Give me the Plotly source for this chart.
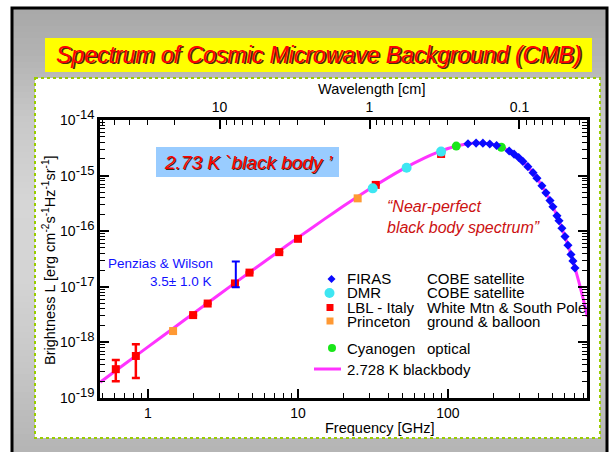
import numpy as np
import plotly.graph_objects as go

# ---------------- data ----------------
# 2.728 K blackbody curve, frequency [GHz] and brightness [erg cm^-2 s^-1 Hz^-1 sr^-1]
bb_freq_ghz = [0.48, 0.5, 0.7, 1, 1.5, 2, 3, 5, 7, 10, 15, 20, 30, 50, 70, 85, 100,
               115, 130, 145, 160, 180, 200, 225, 250, 275, 300, 350, 400, 450, 500,
               550, 600, 650, 700, 750, 800, 850]
bb_brightness = [1.92e-19, 2.09e-19, 4.08e-19, 8.31e-19, 1.86e-18, 3.29e-18, 7.35e-18,
                 2.01e-17, 3.86e-17, 7.67e-17, 1.65e-16, 2.80e-16, 5.73e-16, 1.31e-15,
                 2.09e-15, 2.62e-15, 3.07e-15, 3.42e-15, 3.66e-15, 3.80e-15, 3.85e-15,
                 3.78e-15, 3.61e-15, 3.27e-15, 2.87e-15, 2.45e-15, 2.04e-15, 1.34e-15,
                 8.30e-16, 4.90e-16, 2.79e-16, 1.54e-16, 8.31e-17, 4.38e-17, 2.27e-17,
                 1.16e-17, 5.84e-18, 2.91e-18]

firas_freq_ghz = [136, 154, 171, 190, 211, 256, 276, 296, 316, 341, 369, 392, 423, 450,
                  479, 501, 533, 550, 575, 603, 631, 661, 681, 703]
firas_brightness = [3.73e-15, 3.84e-15, 3.83e-15, 3.71e-15, 3.47e-15, 2.77e-15, 2.43e-15,
                    2.11e-15, 1.80e-15, 1.45e-15, 1.13e-15, 9.0e-16, 6.55e-16, 4.9e-16,
                    3.55e-16, 2.76e-16, 1.89e-16, 1.54e-16, 1.13e-16, 8.0e-17, 5.6e-17,
                    3.8e-17, 2.92e-17, 2.18e-17]

dmr_freq_ghz = [31.5, 53.0, 90.0]
dmr_brightness = [5.9e-16, 1.38e-15, 2.70e-15]

lbl_freq_ghz = [0.61, 0.83, 2.0, 2.5, 3.8, 4.75, 7.5, 10.0, 33.0, 90.0]
lbl_brightness = [3.3e-19, 5.7e-19, 3.1e-18, 5.0e-18, 1.15e-17, 1.8e-17, 4.2e-17,
                  7.3e-17, 6.8e-16, 2.45e-15]
lbl_err_up = [1.5e-19, 3.6e-19, None, None, None, None, None, None, None, None]
lbl_err_down = [1.3e-19, 3.4e-19, None, None, None, None, None, None, None, None]

princeton_freq_ghz = [1.47, 25.0]
princeton_brightness = [1.6e-18, 3.9e-16]

cyanogen_freq_ghz = [113.6, 227.0]
cyanogen_brightness = [3.39e-15, 3.24e-15]

pw_freq_ghz = [3.85]
pw_brightness = [1.65e-17]
pw_err_up = [1.2e-17]
pw_err_down = [0.67e-17]

# tick labels
freq_tick_vals = [1, 10, 100]
freq_tick_text = ["1", "10", "100"]
freq_minor_vals = [0.5, 0.6, 0.7, 0.8, 0.9, 2, 3, 4, 5, 6, 7, 8, 9,
                   20, 30, 40, 50, 60, 70, 80, 90, 200, 300, 400, 500, 600, 700, 800]
wl_tick_cm = [10, 1, 0.1]
wl_tick_text = ["10", "1", "0.1"]
wl_minor_cm = [60, 50, 40, 30, 20, 9, 8, 7, 6, 5, 4, 3, 2,
               0.9, 0.8, 0.7, 0.6, 0.5, 0.4, 0.3, 0.2, 0.09, 0.08, 0.07, 0.06, 0.05, 0.04]
bright_exponents = [-19, -18, -17, -16, -15, -14]

# ---------------- geometry helpers ----------------
W, H = 611, 452
L, R, T, B = 100, 587, 120, 398
C_GHZ_CM = 29.9792458


def px(x):
    return (x - L) / (R - L)


def py(y):
    return (B - y) / (B - T)


def nan_list(v):
    return [float("nan") if a is None else a for a in v]


FONT = "Liberation Sans, Arial, Helvetica, sans-serif"
XR = [-0.32, 2.927]
YR = [-19, -14]

fig = go.Figure()

# blackbody line
fig.add_trace(go.Scatter(x=bb_freq_ghz, y=bb_brightness, mode="lines",
                         line=dict(color="#ff33ff", width=3, shape="spline", smoothing=0.6),
                         hoverinfo="skip"))
# LBL - Italy
fig.add_trace(go.Scatter(x=lbl_freq_ghz, y=lbl_brightness, mode="markers",
                         marker=dict(symbol="square", size=8, color="#ff0000"),
                         error_y=dict(type="data", symmetric=False, array=nan_list(lbl_err_up),
                                      arrayminus=nan_list(lbl_err_down), color="#ff0000",
                                      thickness=2.5, width=4)))
# Princeton
fig.add_trace(go.Scatter(x=princeton_freq_ghz, y=princeton_brightness, mode="markers",
                         marker=dict(symbol="square", size=8, color="#ff9933")))
# DMR
fig.add_trace(go.Scatter(x=dmr_freq_ghz, y=dmr_brightness, mode="markers",
                         marker=dict(symbol="circle", size=10, color="#3ee6f2")))
# Cyanogen
fig.add_trace(go.Scatter(x=cyanogen_freq_ghz, y=cyanogen_brightness, mode="markers",
                         marker=dict(symbol="circle", size=9, color="#19e619")))
# FIRAS
fig.add_trace(go.Scatter(x=firas_freq_ghz, y=firas_brightness, mode="markers",
                         marker=dict(symbol="diamond", size=7, color="#0a0aff")))
# Penzias & Wilson
fig.add_trace(go.Scatter(x=pw_freq_ghz, y=pw_brightness, mode="markers",
                         marker=dict(size=2, color="rgba(0,0,255,0)"),
                         error_y=dict(type="data", symmetric=False, array=pw_err_up,
                                      arrayminus=pw_err_down, color="#0000ff",
                                      thickness=2, width=4)))
# empty traces to host overlay axes (minor ticks / wavelength axis)
for xa, ya in [("x2", "y"), ("x3", "y"), ("x4", "y"), ("x", "y2")]:
    fig.add_trace(go.Scatter(x=[], y=[], xaxis=xa, yaxis=ya, showlegend=False,
                             hoverinfo="skip"))

axis_common = dict(type="log", showgrid=False, zeroline=False, ticks="inside",
                   tickcolor="black", linecolor="black", linewidth=2.5,
                   tickfont=dict(family=FONT, size=14, color="black"))

wl_major_pos = [C_GHZ_CM / v for v in wl_tick_cm]
wl_minor_pos = [C_GHZ_CM / v for v in wl_minor_cm]
bright_major = [10.0 ** e for e in bright_exponents]
bright_text = ["10<sup><span style='font-size:13px'>%d</span></sup>" % e for e in bright_exponents]
bright_minor = [k * 10.0 ** e for e in bright_exponents[:-1] for k in range(2, 10)]

fig.update_layout(
    xaxis=dict(axis_common, range=XR, tickmode="array", tickvals=freq_tick_vals,
               ticktext=freq_tick_text, ticklen=9, tickwidth=1.5, showline=True, mirror=True),
    xaxis3=dict(axis_common, range=XR, overlaying="x", side="bottom", anchor="y",
                tickmode="array", tickvals=freq_minor_vals, ticklen=5, tickwidth=1.2,
                showticklabels=False, showline=False),
    xaxis2=dict(axis_common, range=XR, overlaying="x", side="top", anchor="y",
                tickmode="array", tickvals=wl_major_pos, ticktext=wl_tick_text,
                ticklen=9, tickwidth=1.5, showline=True),
    xaxis4=dict(axis_common, range=XR, overlaying="x", side="top", anchor="y",
                tickmode="array", tickvals=wl_minor_pos, ticklen=5, tickwidth=1.2,
                showticklabels=False, showline=False),
    yaxis=dict(axis_common, range=YR, tickmode="array", tickvals=bright_major,
               ticktext=bright_text, ticklen=9, tickwidth=1.5, showline=True,
               mirror="ticks"),
    yaxis2=dict(axis_common, range=YR, overlaying="y", side="left", anchor="x",
                tickmode="array", tickvals=bright_minor, ticklen=5, tickwidth=1.2,
                showticklabels=False, showline=True, mirror="ticks"),
    width=W, height=H, margin=dict(l=L, r=W - R, t=T, b=H - B, pad=0),
    paper_bgcolor="white", plot_bgcolor="white", showlegend=False,
)

# ---------------- decoration shapes ----------------
shapes = []
stops_y = [8, 60, 120, 200, 280, 360, 452]
stops_g = [168, 180, 200, 214, 212, 200, 180]
for y0 in range(8, 452, 6):
    g = int(round(np.interp(y0 + 3, stops_y, stops_g)))
    shapes.append(dict(type="rect", xref="paper", yref="paper", layer="below",
                       x0=px(12), x1=px(607), y0=py(y0), y1=py(min(y0 + 7, 452)),
                       fillcolor="rgb(%d,%d,%d)" % (g, g, g), line=dict(width=0)))
shapes.append(dict(type="rect", xref="paper", yref="paper", layer="below",
                   x0=px(35), x1=px(600), y0=py(78), y1=py(438), fillcolor="white",
                   line=dict(color="#99cc00", width=2, dash="dot")))
shapes.append(dict(type="rect", xref="paper", yref="paper", layer="below",
                   x0=px(45), x1=px(592), y0=py(38), y1=py(72), fillcolor="#ffff00",
                   line=dict(width=0)))
shapes.append(dict(type="rect", xref="paper", yref="paper", layer="below",
                   x0=px(156), x1=px(339), y0=py(147), y1=py(177), fillcolor="#99ccff",
                   line=dict(width=0)))
shapes.append(dict(type="rect", xref="paper", yref="paper", layer="below",
                   x0=px(12), x1=px(607), y0=py(8), y1=py(470),
                   line=dict(color="black", width=3)))


def key(kind, cx, cy, s, color):
    d = dict(xref="paper", yref="paper", xsizemode="pixel", ysizemode="pixel",
             xanchor=px(cx), yanchor=py(cy), fillcolor=color, line=dict(width=0))
    h = s / 2.0
    if kind == "diamond":
        d.update(type="path", path="M0,%g L%g,0 L0,%g L%g,0 Z" % (h, h, -h, -h))
    else:
        d.update(type=kind, x0=-h, x1=h, y0=-h, y1=h)
    return d


shapes.append(key("diamond", 331.5, 279, 8, "#0a0aff"))
shapes.append(key("circle", 329.5, 293, 10, "#3ee6f2"))
shapes.append(key("rect", 330, 307.5, 7, "#ff0000"))
shapes.append(key("rect", 330, 321, 7, "#ff9933"))
shapes.append(key("circle", 332, 348, 8, "#19e619"))
shapes.append(dict(type="line", xref="paper", yref="paper", x0=px(314), x1=px(341),
                   y0=py(369), y1=py(369), line=dict(color="#ff33ff", width=3)))
fig.update_layout(shapes=shapes)

# ---------------- text ----------------
ann = []


def text(t, x, y, size, color="black", xanchor="left", **kw):
    d = dict(text=t, x=px(x), y=py(y), xref="paper", yref="paper", showarrow=False,
             xanchor=xanchor, yanchor="middle", font=dict(family=FONT, size=size, color=color))
    d.update(kw)
    ann.append(d)


title = "<i>Spectrum of Cosmic Microwave Background (CMB)</i>"
text(title, 318.5, 55, 23, "#4a2a10", "center", xshift=1.5, yshift=-1.5)
text(title, 318.5, 55, 23, "#ff0000", "center")
bb_lab = "<i>2.73 K `black body \u2019</i>"
text(bb_lab, 248, 162, 19, "#3a2a10", "center", xshift=1.5, yshift=-1.5)
text(bb_lab, 248, 162, 19, "#ff0000", "center")
text("<i>\u201cNear-perfect<br>black body spectrum\u201d</i>", 385, 216.5, 16, "#cc1111",
     "left", align="left")
text("Penzias &amp; Wilson", 215, 263, 13.5, "#1010ff", "right")
text("3.5\u00b1 1.0 K", 213, 281, 13.5, "#1010ff", "right")

legend_rows = [("FIRAS", "COBE satellite", 278), ("DMR", "COBE satellite", 292),
               ("LBL - Italy", "White Mtn &amp; South Pole", 307),
               ("Princeton", "ground &amp; balloon", 321), ("Cyanogen", "optical", 348)]
for a, b, y in legend_rows:
    text(a, 345, y, 15)
    text(b, 425, y, 15)
text("2.728 K blackbody", 345, 369, 15)

text("Wavelength [cm]", 371, 89, 14.5, "black", "center")
text("Frequency [GHz]", 380, 428, 14.5, "black", "center")
text("Brightness L [erg cm<sup>-2</sup>s<sup>-1</sup>Hz<sup>-1</sup>sr<sup>-1</sup>]",
     49, 260, 14.5, "black", "center", textangle=-90)

fig.update_layout(annotations=ann)
fig.write_html("out.html")
